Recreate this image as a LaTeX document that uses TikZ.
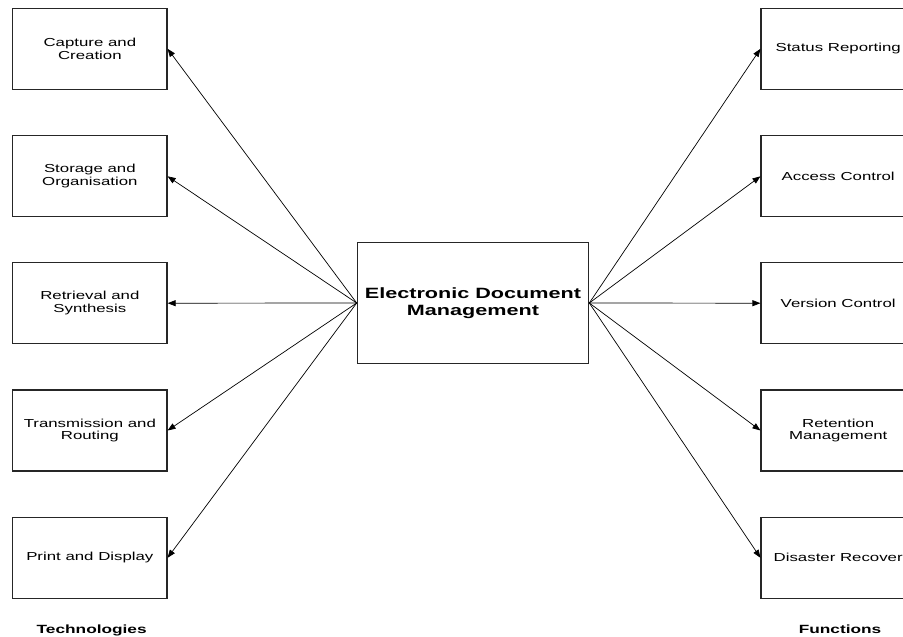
\documentclass[tikz,border=0pt]{standalone}
\usepackage{fontspec}
\setmainfont{Liberation Sans}[FakeStretch=1.45]
\usetikzlibrary{arrows.meta}
\begin{document}
\begin{tikzpicture}[x=1pt,y=1pt,
  box/.style={draw=black!85, line width=1.2pt, minimum width=154.3pt, minimum height=81pt,
    inner sep=0pt, align=center, font=\fontsize{11.6}{12.7}\selectfont},
  hub/.style={draw=black!85, line width=1.2pt, minimum width=231.4pt, minimum height=120.6pt,
    inner sep=0pt, align=center, font=\fontsize{14.9}{16.7}\selectfont\bfseries},
  lab/.style={anchor=base, inner sep=0pt, font=\fontsize{11.9}{13}\selectfont\bfseries},
  link/.style={line width=0.7pt, -{Triangle[length=8pt,width=6pt]}}]
\useasboundingbox (0,0) rectangle (903,-637);
\clip (0,0) rectangle (903,-637);
\fill[white] (0,0) rectangle (903,-637);
% centre
\node[hub] (c) at (473,-303) {Electronic Document\\Management};
% left column
\node[box] (l1) at (89.85,-48.8) {Capture and\\Creation};
\node[box] (l2) at (89.85,-176.3) {Storage and\\Organisation};
\node[box] (l3) at (89.85,-303.2) {Retrieval and\\Synthesis};
\node[box] (l4) at (89.85,-430.5) {Transmission and\\Routing};
\node[box] (l5) at (89.85,-557.8) {Print and Display};
% right column
\node[box] (r1) at (838.2,-48.8) {Status Reporting};
\node[box] (r2) at (838.2,-176.3) {Access Control};
\node[box] (r3) at (838.2,-303.2) {Version Control};
\node[box] (r4) at (838.2,-430.5) {Retention\\Management};
\node[box] (r5) at (838.2,-557.8) {Disaster Recover};
% connectors
\foreach \i in {1,...,5} {
  \draw[link] (c.west) -- (l\i.east);
  \draw[link] (c.east) -- (r\i.west);
}
% labels
\node[lab] (tech) at (91.7,-633) {Technologies};
\node[lab] (func) at (840,-633) {Functions};
\end{tikzpicture}
\end{document}
